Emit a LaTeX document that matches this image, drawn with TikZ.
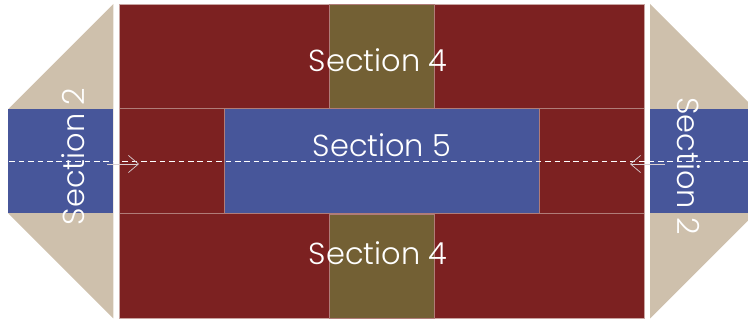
\documentclass[tikz,border=0pt]{standalone}
\usepackage{fontspec}
\setmainfont{Poppins Light}
\usetikzlibrary{arrows.meta}
\definecolor{redc}{HTML}{7C2121}
\definecolor{bluec}{HTML}{47569A}
\definecolor{olivec}{HTML}{736034}
\definecolor{tanc}{HTML}{CEC0AC}
\definecolor{edgec}{HTML}{B07C78}
\definecolor{outerc}{HTML}{C9A5A2}
\definecolor{flowc}{HTML}{D9CFD2}
\tikzset{
  redbox/.style={fill=redc,draw=outerc,line width=0.8pt},
  bluebox/.style={fill=bluec,draw=none},
  midbox/.style={fill=bluec,draw=edgec,line width=0.8pt},
  olivebox/.style={fill=olivec,draw=edgec,line width=0.6pt},
  tantri/.style={fill=tanc,draw=none},
  lab/.style={text=white,font=\fontsize{30.4}{32}\selectfont,inner sep=0pt},
  flow/.style={draw=flowc,line width=0.7pt,-{Straight Barb[length=10pt,width=17pt,line width=0.7pt]}},
  guide/.style={draw=white,line width=1pt,dash pattern=on 5.5pt off 3.9pt}
}
\begin{document}
\begin{tikzpicture}[x=1pt,y=-1pt]
\useasboundingbox (0,0) rectangle (748,323);
\clip (0,0) rectangle (748,323);
% left wedges
\path[tantri] (113.3,4) -- (8.3,109) -- (8.3,213.5) -- (113.3,318.5) -- cycle;
\path[bluebox] (8.3,109) rectangle (113.3,213.5);
% right wedges
\path[tantri] (650,4) -- (755,109) -- (755,213.5) -- (650,318.5) -- cycle;
\path[bluebox] (650,109) rectangle (748,213.5);
% main block
\path[redbox] (119.5,4) rectangle (644,318.5);
\path[olivebox] (329,4.4) rectangle (434.5,108.5);
\path[olivebox] (329,214) rectangle (434.5,318.1);
\draw[draw=edgec,line width=0.8pt] (119.9,108.5) -- (643.6,108.5) (119.9,213.8) -- (643.6,213.8);
\path[midbox] (224.5,108.5) rectangle (539.5,213.8);
% labels
\node[lab] (s4a) at (378,60) {Section 4};
\node[lab] (s5) at (382,145) {Section 5};
\node[lab] (s4b) at (378,253) {Section 4};
\node[lab,rotate=90] (s2a) at (73,156.5) {Section 2};
\node[lab,rotate=-90] (s2b) at (689,166) {Section 2};
% guide and arrows
\coordinate (gl) at (0,161.3);
\coordinate (gr) at (748,161.3);
\draw[guide] (gl) -- (gr);
\coordinate (al) at (107,164);
\coordinate (ar) at (139,164);
\coordinate (bl) at (665,164);
\coordinate (br) at (630,164);
\draw[flow] (al) -- (ar);
\draw[flow] (bl) -- (br);
\end{tikzpicture}
\end{document}
